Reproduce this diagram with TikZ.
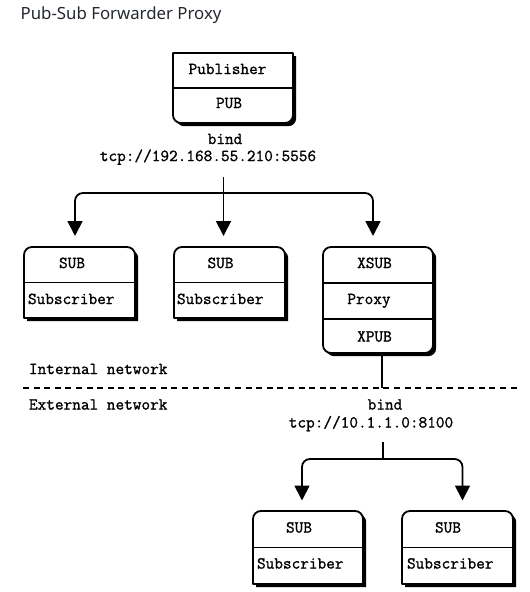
\documentclass[tikz,border=0pt]{standalone}
\usepackage{fontspec}
\newfontfamily\titlefont{Noto Sans}
\newfontfamily\diagfont{Latin Modern Mono}[FakeBold=1.2]
\usetikzlibrary{arrows.meta}
\definecolor{titlecol}{HTML}{24292F}
\tikzset{
  lbl/.style={font=\diagfont\fontsize{16.8}{20}\selectfont, inner sep=0pt, outer sep=0pt, text height=0.61em, text depth=0pt},
  frame/.style 2 args={minimum width=#1pt, minimum height=#2pt, inner sep=0pt, outer sep=0pt},
  outline/.style={line width=1.8pt, fill=white, line join=round},
  toppath/.style={insert path={(#1.south west) -- ([yshift=-8pt]#1.north west) arc[start angle=180,end angle=90,radius=8pt] -- ([xshift=-8pt]#1.north east) arc[start angle=90,end angle=0,radius=8pt] -- (#1.south east) -- cycle}},
  botpath/.style={insert path={(#1.north west) -- (#1.north east) -- ([yshift=8pt]#1.south east) arc[start angle=0,end angle=-90,radius=8pt] -- ([xshift=8pt]#1.south west) arc[start angle=270,end angle=180,radius=8pt] -- cycle}},
  allpath/.style={insert path={[rounded corners=8pt] (#1.south west) rectangle (#1.north east)}},
  divider/.style={line width=1.8pt},
  conn/.style={line width=1.8pt, -{Triangle[length=15pt,width=15pt]}},
  wire/.style={line width=1.8pt},
  netline/.style={line width=2.2pt, dash pattern=on 6pt off 4.6pt},
}
\begin{document}
\begin{tikzpicture}[x=1pt,y=1pt]
\useasboundingbox (0,0) rectangle (530,-592);
% title
\node[anchor=west, inner sep=0pt, font=\titlefont\fontsize{16.8}{20}\selectfont, text=titlecol, text height=0.714em, text depth=0pt] (title) at (20.5,-15.5) {Pub-Sub Forwarder Proxy};

% box frames
\node[frame={120}{70}] (pub) at (233,-88) {};
\node[frame={111}{71}] (s1) at (79.5,-282.5) {};
\node[frame={111}{71}] (s2) at (229.5,-282.5) {};
\node[frame={110}{106}] (px) at (378,-300) {};
\node[frame={110}{73}] (s3) at (308,-547.5) {};
\node[frame={111}{73}] (s4) at (457.5,-547.5) {};

% shadows
\begin{scope}[transform canvas={shift={(3.2pt,-3.2pt)}}]
\fill[black, botpath=pub];
\fill[black, toppath=s1];
\fill[black, toppath=s2];
\fill[black, allpath=px];
\fill[black, toppath=s3];
\fill[black, toppath=s4];
\end{scope}

% outlines
\filldraw[outline, botpath=pub];
\filldraw[outline, toppath=s1];
\filldraw[outline, toppath=s2];
\filldraw[outline, allpath=px];
\filldraw[outline, toppath=s3];
\filldraw[outline, toppath=s4];

% dividers
\draw[divider] (pub.west) -- (pub.east);
\draw[divider] (s1.west) -- (s1.east);
\draw[divider] (s2.west) -- (s2.east);
\draw[divider] ([yshift=17pt]px.west) -- ([yshift=17pt]px.east);
\draw[divider] ([yshift=-19pt]px.west) -- ([yshift=-19pt]px.east);
\draw[divider] (s3.west) -- (s3.east);
\draw[divider] (s4.west) -- (s4.east);

% box texts
\node[lbl] (tpub) at (227.5,-71) {Publisher};
\node[lbl] (tpubs) at (229,-105) {PUB};
\node[lbl] (t1a) at (72,-265) {SUB};
\node[lbl, anchor=west] (t1b) at (28,-301) {Subscriber};
\node[lbl] (t2a) at (220.5,-265) {SUB};
\node[lbl, anchor=west] (t2b) at (177,-301) {Subscriber};
\node[lbl] (txa) at (374.5,-265) {XSUB};
\node[lbl] (txb) at (369,-301) {Proxy};
\node[lbl] (txc) at (374.5,-338.5) {XPUB};
\node[lbl] (t3a) at (299,-529.5) {SUB};
\node[lbl, anchor=west] (t3b) at (257,-565.5) {Subscriber};
\node[lbl] (t4a) at (448,-529.5) {SUB};
\node[lbl, anchor=west] (t4b) at (407,-565.5) {Subscriber};

% free labels
\node[lbl] (bind1) at (225,-141) {bind};
\node[lbl] (addr1) at (208,-158) {tcp://192.168.55.210:5556};
\node[lbl, anchor=west] (inet) at (29,-371) {Internal network};
\node[lbl, anchor=west] (enet) at (29,-406.5) {External network};
\node[lbl] (bind2) at (385,-406.5) {bind};
\node[lbl] (addr2) at (371,-424.5) {tcp://10.1.1.0:8100};

% connectors (upper)
\coordinate (src1) at (223.5,-177);
\coordinate (j1) at (223.5,-193);
\coordinate (a1) at (75,-236);
\coordinate (a2) at (223.5,-236);
\coordinate (a3) at (373,-236);
\draw[conn] (src1) -- (a2);
\draw[conn, rounded corners=8pt] (j1) -| (a1);
\draw[conn, rounded corners=8pt] (j1) -| (a3);

% network boundary
\coordinate (dl) at (23,-388);
\coordinate (dr) at (518,-388);
\draw[netline] (dl) -- (dr);
\coordinate (net) at (382,-388);
\draw[wire] (px.south -| net) -- (net);

% connectors (lower)
\coordinate (src2) at (383,-442);
\coordinate (j2) at (383,-459);
\coordinate (b1) at (302,-500.5);
\coordinate (b2) at (462.5,-500.5);
\draw[wire] (src2) -- (j2);
\draw[conn, rounded corners=8pt] (j2) -| (b1);
\draw[conn, rounded corners=8pt] (j2) -| (b2);
\end{tikzpicture}
\end{document}
